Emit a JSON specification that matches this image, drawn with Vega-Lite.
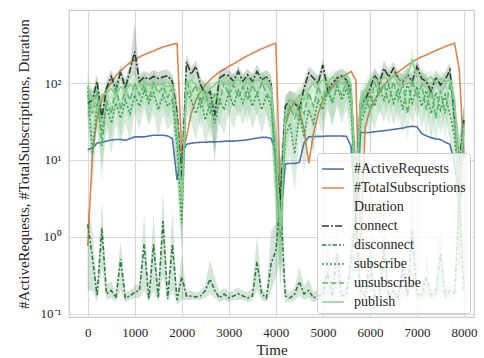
{
  "$schema": "https://vega.github.io/schema/vega-lite/v6.json",
  "autosize": {"type": "none"},
  "padding": {"left": 69, "top": 10, "right": 10, "bottom": 41},
  "width": 405,
  "height": 307,
  "background": "white",
  "config": {
    "font": "Liberation Serif",
    "view": {"stroke": "#cccccc", "strokeWidth": 1.25},
    "axis": {
      "grid": true, "gridColor": "#d9d9d9", "gridWidth": 1.2,
      "domain": false, "ticks": false,
      "labelFont": "Liberation Serif", "labelFontSize": 13, "labelColor": "#262626",
      "titleFont": "Liberation Serif", "titleFontSize": 15, "titleFontWeight": "normal", "titleColor": "#262626"
    },
    "legend": {
      "labelFont": "Liberation Serif", "labelFontSize": 14, "labelColor": "#262626"
    }
  },
  "data": {"values": [
{"t":0,"s":"#ActiveRequests","v":13.6},{"t":100,"s":"#ActiveRequests","v":14.3},{"t":200,"s":"#ActiveRequests","v":16.6},{"t":300,"s":"#ActiveRequests","v":17},{"t":400,"s":"#ActiveRequests","v":17.6},{"t":500,"s":"#ActiveRequests","v":18.2},{"t":600,"s":"#ActiveRequests","v":18.5},{"t":700,"s":"#ActiveRequests","v":18.5},{"t":800,"s":"#ActiveRequests","v":18},{"t":900,"s":"#ActiveRequests","v":19},
{"t":1000,"s":"#ActiveRequests","v":20},{"t":1100,"s":"#ActiveRequests","v":20},{"t":1200,"s":"#ActiveRequests","v":20},{"t":1300,"s":"#ActiveRequests","v":20.5},{"t":1400,"s":"#ActiveRequests","v":21},{"t":1500,"s":"#ActiveRequests","v":21},{"t":1600,"s":"#ActiveRequests","v":21},{"t":1700,"s":"#ActiveRequests","v":20.5},{"t":1800,"s":"#ActiveRequests","v":19},{"t":1900,"s":"#ActiveRequests","v":5.5},
{"t":2000,"s":"#ActiveRequests","v":12},{"t":2100,"s":"#ActiveRequests","v":16},{"t":2200,"s":"#ActiveRequests","v":16.5},{"t":2300,"s":"#ActiveRequests","v":16.8},{"t":2400,"s":"#ActiveRequests","v":17},{"t":2500,"s":"#ActiveRequests","v":17},{"t":2600,"s":"#ActiveRequests","v":17.2},{"t":2700,"s":"#ActiveRequests","v":17.2},{"t":2800,"s":"#ActiveRequests","v":17.3},{"t":2900,"s":"#ActiveRequests","v":17.5},
{"t":3000,"s":"#ActiveRequests","v":17.6},{"t":3100,"s":"#ActiveRequests","v":17.6},{"t":3200,"s":"#ActiveRequests","v":17.8},{"t":3300,"s":"#ActiveRequests","v":18},{"t":3400,"s":"#ActiveRequests","v":18.3},{"t":3500,"s":"#ActiveRequests","v":18.9},{"t":3600,"s":"#ActiveRequests","v":19.2},{"t":3700,"s":"#ActiveRequests","v":19.7},{"t":3800,"s":"#ActiveRequests","v":19.7},{"t":3900,"s":"#ActiveRequests","v":19},
{"t":4000,"s":"#ActiveRequests","v":13},{"t":4100,"s":"#ActiveRequests","v":1.7},{"t":4200,"s":"#ActiveRequests","v":8.9},{"t":4300,"s":"#ActiveRequests","v":9},{"t":4400,"s":"#ActiveRequests","v":9},{"t":4500,"s":"#ActiveRequests","v":9.3},{"t":4600,"s":"#ActiveRequests","v":16.7},{"t":4700,"s":"#ActiveRequests","v":20},{"t":4800,"s":"#ActiveRequests","v":20.2},{"t":4900,"s":"#ActiveRequests","v":20.3},
{"t":5000,"s":"#ActiveRequests","v":20.3},{"t":5100,"s":"#ActiveRequests","v":20.5},{"t":5200,"s":"#ActiveRequests","v":20.5},{"t":5300,"s":"#ActiveRequests","v":20.5},{"t":5400,"s":"#ActiveRequests","v":20.5},{"t":5500,"s":"#ActiveRequests","v":20.3},{"t":5600,"s":"#ActiveRequests","v":15},{"t":5700,"s":"#ActiveRequests","v":1.5},{"t":5800,"s":"#ActiveRequests","v":22.8},{"t":5900,"s":"#ActiveRequests","v":22.8},
{"t":6000,"s":"#ActiveRequests","v":22.8},{"t":6100,"s":"#ActiveRequests","v":23.3},{"t":6200,"s":"#ActiveRequests","v":23.7},{"t":6300,"s":"#ActiveRequests","v":24},{"t":6400,"s":"#ActiveRequests","v":24.5},{"t":6500,"s":"#ActiveRequests","v":25},{"t":6600,"s":"#ActiveRequests","v":25.5},{"t":6700,"s":"#ActiveRequests","v":26},{"t":6800,"s":"#ActiveRequests","v":27},{"t":6900,"s":"#ActiveRequests","v":27.5},
{"t":7000,"s":"#ActiveRequests","v":27},{"t":7100,"s":"#ActiveRequests","v":22},{"t":7200,"s":"#ActiveRequests","v":20.6},{"t":7300,"s":"#ActiveRequests","v":19.5},{"t":7400,"s":"#ActiveRequests","v":18.8},{"t":7500,"s":"#ActiveRequests","v":18.5},{"t":7600,"s":"#ActiveRequests","v":17},{"t":7700,"s":"#ActiveRequests","v":16},{"t":7800,"s":"#ActiveRequests","v":9},{"t":7900,"s":"#ActiveRequests","v":3},{"t":8000,"s":"#ActiveRequests","v":5},
{"t":0,"s":"#TotalSubscriptions","v":0.76},{"t":100,"s":"#TotalSubscriptions","v":12},{"t":200,"s":"#TotalSubscriptions","v":35},{"t":300,"s":"#TotalSubscriptions","v":60},{"t":400,"s":"#TotalSubscriptions","v":85},{"t":500,"s":"#TotalSubscriptions","v":100},{"t":600,"s":"#TotalSubscriptions","v":125},{"t":700,"s":"#TotalSubscriptions","v":145},{"t":800,"s":"#TotalSubscriptions","v":165},{"t":900,"s":"#TotalSubscriptions","v":185},
{"t":1000,"s":"#TotalSubscriptions","v":200},{"t":1100,"s":"#TotalSubscriptions","v":220},{"t":1200,"s":"#TotalSubscriptions","v":235},{"t":1300,"s":"#TotalSubscriptions","v":250},{"t":1400,"s":"#TotalSubscriptions","v":262},{"t":1500,"s":"#TotalSubscriptions","v":280},{"t":1600,"s":"#TotalSubscriptions","v":295},{"t":1700,"s":"#TotalSubscriptions","v":307},{"t":1800,"s":"#TotalSubscriptions","v":320},{"t":1900,"s":"#TotalSubscriptions","v":330},
{"t":2000,"s":"#TotalSubscriptions","v":12},{"t":2100,"s":"#TotalSubscriptions","v":20},{"t":2200,"s":"#TotalSubscriptions","v":40},{"t":2300,"s":"#TotalSubscriptions","v":60},{"t":2400,"s":"#TotalSubscriptions","v":78},{"t":2500,"s":"#TotalSubscriptions","v":95},{"t":2600,"s":"#TotalSubscriptions","v":110},{"t":2700,"s":"#TotalSubscriptions","v":125},{"t":2800,"s":"#TotalSubscriptions","v":140},{"t":2900,"s":"#TotalSubscriptions","v":152},
{"t":3000,"s":"#TotalSubscriptions","v":165},{"t":3100,"s":"#TotalSubscriptions","v":178},{"t":3200,"s":"#TotalSubscriptions","v":195},{"t":3300,"s":"#TotalSubscriptions","v":210},{"t":3400,"s":"#TotalSubscriptions","v":228},{"t":3500,"s":"#TotalSubscriptions","v":245},{"t":3600,"s":"#TotalSubscriptions","v":262},{"t":3700,"s":"#TotalSubscriptions","v":280},{"t":3800,"s":"#TotalSubscriptions","v":297},{"t":3900,"s":"#TotalSubscriptions","v":315},
{"t":4000,"s":"#TotalSubscriptions","v":330},{"t":4100,"s":"#TotalSubscriptions","v":3},{"t":4200,"s":"#TotalSubscriptions","v":28},{"t":4300,"s":"#TotalSubscriptions","v":45},{"t":4400,"s":"#TotalSubscriptions","v":58},{"t":4500,"s":"#TotalSubscriptions","v":45},{"t":4600,"s":"#TotalSubscriptions","v":25},{"t":4700,"s":"#TotalSubscriptions","v":9},{"t":4800,"s":"#TotalSubscriptions","v":22},{"t":4900,"s":"#TotalSubscriptions","v":40},
{"t":5000,"s":"#TotalSubscriptions","v":60},{"t":5100,"s":"#TotalSubscriptions","v":75},{"t":5200,"s":"#TotalSubscriptions","v":90},{"t":5300,"s":"#TotalSubscriptions","v":105},{"t":5400,"s":"#TotalSubscriptions","v":118},{"t":5500,"s":"#TotalSubscriptions","v":130},{"t":5600,"s":"#TotalSubscriptions","v":142},{"t":5700,"s":"#TotalSubscriptions","v":110},{"t":5800,"s":"#TotalSubscriptions","v":0.8},{"t":5900,"s":"#TotalSubscriptions","v":27},
{"t":6000,"s":"#TotalSubscriptions","v":45},{"t":6100,"s":"#TotalSubscriptions","v":60},{"t":6200,"s":"#TotalSubscriptions","v":78},{"t":6300,"s":"#TotalSubscriptions","v":95},{"t":6400,"s":"#TotalSubscriptions","v":110},{"t":6500,"s":"#TotalSubscriptions","v":122},{"t":6600,"s":"#TotalSubscriptions","v":140},{"t":6700,"s":"#TotalSubscriptions","v":155},{"t":6800,"s":"#TotalSubscriptions","v":172},{"t":6900,"s":"#TotalSubscriptions","v":190},
{"t":7000,"s":"#TotalSubscriptions","v":205},{"t":7100,"s":"#TotalSubscriptions","v":220},{"t":7200,"s":"#TotalSubscriptions","v":233},{"t":7300,"s":"#TotalSubscriptions","v":250},{"t":7400,"s":"#TotalSubscriptions","v":265},{"t":7500,"s":"#TotalSubscriptions","v":282},{"t":7600,"s":"#TotalSubscriptions","v":300},{"t":7700,"s":"#TotalSubscriptions","v":315},{"t":7800,"s":"#TotalSubscriptions","v":330},{"t":7900,"s":"#TotalSubscriptions","v":150},{"t":8000,"s":"#TotalSubscriptions","v":10.6},
{"t":0,"s":"connect","v":55,"lo":35,"hi":90},{"t":100,"s":"connect","v":60,"lo":45,"hi":80},{"t":200,"s":"connect","v":105,"lo":80,"hi":130},{"t":300,"s":"connect","v":35,"lo":25,"hi":50},{"t":400,"s":"connect","v":86,"lo":65,"hi":110},{"t":500,"s":"connect","v":122,"lo":95,"hi":150},{"t":600,"s":"connect","v":82,"lo":60,"hi":105},{"t":700,"s":"connect","v":140,"lo":110,"hi":175},{"t":800,"s":"connect","v":86,"lo":65,"hi":110},{"t":900,"s":"connect","v":147,"lo":110,"hi":190},
{"t":1000,"s":"connect","v":257,"lo":130,"hi":600},{"t":1100,"s":"connect","v":105,"lo":85,"hi":130},{"t":1200,"s":"connect","v":120,"lo":95,"hi":145},{"t":1300,"s":"connect","v":112,"lo":90,"hi":135},{"t":1400,"s":"connect","v":122,"lo":100,"hi":150},{"t":1500,"s":"connect","v":115,"lo":90,"hi":140},{"t":1600,"s":"connect","v":120,"lo":95,"hi":150},{"t":1700,"s":"connect","v":125,"lo":100,"hi":150},{"t":1800,"s":"connect","v":105,"lo":80,"hi":130},{"t":1900,"s":"connect","v":41,"lo":25,"hi":70},
{"t":2000,"s":"connect","v":5.5,"lo":2.5,"hi":12},{"t":2100,"s":"connect","v":190,"lo":150,"hi":240},{"t":2200,"s":"connect","v":130,"lo":100,"hi":160},{"t":2300,"s":"connect","v":165,"lo":130,"hi":200},{"t":2400,"s":"connect","v":95,"lo":75,"hi":120},{"t":2500,"s":"connect","v":72,"lo":55,"hi":95},{"t":2600,"s":"connect","v":78,"lo":55,"hi":100},{"t":2700,"s":"connect","v":38,"lo":9,"hi":60},{"t":2800,"s":"connect","v":116,"lo":90,"hi":140},{"t":2900,"s":"connect","v":128,"lo":100,"hi":155},
{"t":3000,"s":"connect","v":125,"lo":100,"hi":150},{"t":3100,"s":"connect","v":105,"lo":85,"hi":130},{"t":3200,"s":"connect","v":142,"lo":115,"hi":170},{"t":3300,"s":"connect","v":105,"lo":85,"hi":130},{"t":3400,"s":"connect","v":128,"lo":100,"hi":155},{"t":3500,"s":"connect","v":105,"lo":85,"hi":130},{"t":3600,"s":"connect","v":142,"lo":115,"hi":175},{"t":3700,"s":"connect","v":110,"lo":90,"hi":135},{"t":3800,"s":"connect","v":120,"lo":95,"hi":150},{"t":3900,"s":"connect","v":100,"lo":75,"hi":130},
{"t":4000,"s":"connect","v":10,"lo":4,"hi":25},{"t":4100,"s":"connect","v":3,"lo":1,"hi":10},{"t":4200,"s":"connect","v":50,"lo":35,"hi":70},{"t":4300,"s":"connect","v":60,"lo":45,"hi":80},{"t":4400,"s":"connect","v":55,"lo":40,"hi":75},{"t":4500,"s":"connect","v":45,"lo":30,"hi":65},{"t":4600,"s":"connect","v":86,"lo":65,"hi":110},{"t":4700,"s":"connect","v":135,"lo":105,"hi":165},{"t":4800,"s":"connect","v":116,"lo":90,"hi":145},{"t":4900,"s":"connect","v":100,"lo":80,"hi":125},
{"t":5000,"s":"connect","v":172,"lo":135,"hi":210},{"t":5100,"s":"connect","v":82,"lo":65,"hi":105},{"t":5200,"s":"connect","v":100,"lo":80,"hi":125},{"t":5300,"s":"connect","v":116,"lo":90,"hi":145},{"t":5400,"s":"connect","v":125,"lo":100,"hi":155},{"t":5500,"s":"connect","v":110,"lo":85,"hi":135},{"t":5600,"s":"connect","v":80,"lo":55,"hi":110},{"t":5700,"s":"connect","v":5,"lo":2,"hi":14},{"t":5800,"s":"connect","v":55,"lo":35,"hi":80},{"t":5900,"s":"connect","v":60,"lo":45,"hi":80},
{"t":6000,"s":"connect","v":85,"lo":65,"hi":110},{"t":6100,"s":"connect","v":128,"lo":100,"hi":160},{"t":6200,"s":"connect","v":100,"lo":80,"hi":125},{"t":6300,"s":"connect","v":156,"lo":120,"hi":195},{"t":6400,"s":"connect","v":120,"lo":95,"hi":150},{"t":6500,"s":"connect","v":156,"lo":120,"hi":190},{"t":6600,"s":"connect","v":115,"lo":90,"hi":140},{"t":6700,"s":"connect","v":105,"lo":85,"hi":130},{"t":6800,"s":"connect","v":130,"lo":105,"hi":160},{"t":6900,"s":"connect","v":105,"lo":85,"hi":130},
{"t":7000,"s":"connect","v":164,"lo":130,"hi":200},{"t":7100,"s":"connect","v":115,"lo":90,"hi":140},{"t":7200,"s":"connect","v":105,"lo":85,"hi":130},{"t":7300,"s":"connect","v":78,"lo":60,"hi":100},{"t":7400,"s":"connect","v":120,"lo":95,"hi":150},{"t":7500,"s":"connect","v":95,"lo":75,"hi":120},{"t":7600,"s":"connect","v":110,"lo":85,"hi":140},{"t":7700,"s":"connect","v":149,"lo":115,"hi":185},{"t":7800,"s":"connect","v":35,"lo":20,"hi":60},{"t":7900,"s":"connect","v":9,"lo":4,"hi":20},{"t":8000,"s":"connect","v":33,"lo":20,"hi":50},
{"t":0,"s":"disconnect","v":1.45,"lo":0.2,"hi":2.5},{"t":100,"s":"disconnect","v":0.54,"lo":0.2,"hi":1.2},{"t":200,"s":"disconnect","v":0.17,"lo":0.14,"hi":0.22},{"t":300,"s":"disconnect","v":1.29,"lo":0.4,"hi":3},{"t":400,"s":"disconnect","v":0.18,"lo":0.15,"hi":0.24},{"t":500,"s":"disconnect","v":0.2,"lo":0.16,"hi":0.26},{"t":600,"s":"disconnect","v":0.16,"lo":0.14,"hi":0.19},{"t":700,"s":"disconnect","v":0.51,"lo":0.2,"hi":0.9},{"t":800,"s":"disconnect","v":0.16,"lo":0.14,"hi":0.19},{"t":900,"s":"disconnect","v":0.17,"lo":0.15,"hi":0.2},
{"t":1000,"s":"disconnect","v":0.19,"lo":0.16,"hi":0.23},{"t":1100,"s":"disconnect","v":0.2,"lo":0.16,"hi":0.25},{"t":1200,"s":"disconnect","v":0.8,"lo":0.2,"hi":2},{"t":1300,"s":"disconnect","v":0.156,"lo":0.14,"hi":0.18},{"t":1400,"s":"disconnect","v":0.8,"lo":0.2,"hi":2},{"t":1500,"s":"disconnect","v":0.16,"lo":0.14,"hi":0.19},{"t":1600,"s":"disconnect","v":1.6,"lo":0.3,"hi":4},{"t":1700,"s":"disconnect","v":0.156,"lo":0.14,"hi":0.18},{"t":1800,"s":"disconnect","v":0.8,"lo":0.2,"hi":2.2},{"t":1900,"s":"disconnect","v":0.15,"lo":0.13,"hi":0.18},
{"t":2000,"s":"disconnect","v":0.3,"lo":0.15,"hi":0.6},{"t":2100,"s":"disconnect","v":0.17,"lo":0.15,"hi":0.2},{"t":2200,"s":"disconnect","v":0.168,"lo":0.15,"hi":0.2},{"t":2300,"s":"disconnect","v":0.165,"lo":0.15,"hi":0.19},{"t":2400,"s":"disconnect","v":0.17,"lo":0.15,"hi":0.2},{"t":2500,"s":"disconnect","v":0.2,"lo":0.16,"hi":0.24},{"t":2600,"s":"disconnect","v":0.28,"lo":0.18,"hi":0.5},{"t":2700,"s":"disconnect","v":0.2,"lo":0.16,"hi":0.3},{"t":2800,"s":"disconnect","v":0.16,"lo":0.14,"hi":0.19},{"t":2900,"s":"disconnect","v":0.18,"lo":0.15,"hi":0.22},
{"t":3000,"s":"disconnect","v":0.16,"lo":0.14,"hi":0.19},{"t":3100,"s":"disconnect","v":0.17,"lo":0.15,"hi":0.2},{"t":3200,"s":"disconnect","v":0.18,"lo":0.15,"hi":0.22},{"t":3300,"s":"disconnect","v":0.17,"lo":0.15,"hi":0.2},{"t":3400,"s":"disconnect","v":0.16,"lo":0.14,"hi":0.19},{"t":3500,"s":"disconnect","v":0.17,"lo":0.15,"hi":0.22},{"t":3600,"s":"disconnect","v":0.47,"lo":0.2,"hi":1.03},{"t":3700,"s":"disconnect","v":0.18,"lo":0.15,"hi":0.22},{"t":3800,"s":"disconnect","v":0.16,"lo":0.14,"hi":0.19},{"t":3900,"s":"disconnect","v":0.45,"lo":0.2,"hi":1.2},
{"t":4000,"s":"disconnect","v":0.66,"lo":0.3,"hi":1.5},{"t":4100,"s":"disconnect","v":3,"lo":0.5,"hi":12},{"t":4200,"s":"disconnect","v":0.17,"lo":0.14,"hi":0.21},{"t":4300,"s":"disconnect","v":0.16,"lo":0.14,"hi":0.19},{"t":4400,"s":"disconnect","v":0.18,"lo":0.15,"hi":0.22},{"t":4500,"s":"disconnect","v":0.26,"lo":0.17,"hi":0.4},{"t":4600,"s":"disconnect","v":0.18,"lo":0.15,"hi":0.23},{"t":4700,"s":"disconnect","v":0.2,"lo":0.16,"hi":0.28},{"t":4800,"s":"disconnect","v":0.16,"lo":0.14,"hi":0.19},{"t":4900,"s":"disconnect","v":0.17,"lo":0.15,"hi":0.21},
{"t":5000,"s":"disconnect","v":0.18,"lo":0.15,"hi":0.23},{"t":5100,"s":"disconnect","v":0.35,"lo":0.18,"hi":0.8},{"t":5200,"s":"disconnect","v":0.17,"lo":0.15,"hi":0.2},{"t":5300,"s":"disconnect","v":0.6,"lo":0.2,"hi":1.5},{"t":5400,"s":"disconnect","v":0.17,"lo":0.15,"hi":0.2},{"t":5500,"s":"disconnect","v":0.18,"lo":0.15,"hi":0.22},{"t":5600,"s":"disconnect","v":0.5,"lo":0.2,"hi":1.2},{"t":5700,"s":"disconnect","v":2,"lo":0.4,"hi":8},{"t":5800,"s":"disconnect","v":0.2,"lo":0.15,"hi":0.3},{"t":5900,"s":"disconnect","v":0.17,"lo":0.15,"hi":0.2},
{"t":6000,"s":"disconnect","v":0.5,"lo":0.2,"hi":1.2},{"t":6100,"s":"disconnect","v":0.17,"lo":0.15,"hi":0.2},{"t":6200,"s":"disconnect","v":0.18,"lo":0.15,"hi":0.22},{"t":6300,"s":"disconnect","v":0.7,"lo":0.2,"hi":1.8},{"t":6400,"s":"disconnect","v":0.17,"lo":0.15,"hi":0.2},{"t":6500,"s":"disconnect","v":0.2,"lo":0.16,"hi":0.26},{"t":6600,"s":"disconnect","v":0.16,"lo":0.14,"hi":0.19},{"t":6700,"s":"disconnect","v":0.4,"lo":0.18,"hi":0.9},{"t":6800,"s":"disconnect","v":0.17,"lo":0.15,"hi":0.2},{"t":6900,"s":"disconnect","v":1.2,"lo":0.25,"hi":8},
{"t":7000,"s":"disconnect","v":0.18,"lo":0.15,"hi":0.22},{"t":7100,"s":"disconnect","v":0.17,"lo":0.15,"hi":0.2},{"t":7200,"s":"disconnect","v":0.3,"lo":0.17,"hi":0.6},{"t":7300,"s":"disconnect","v":0.17,"lo":0.15,"hi":0.2},{"t":7400,"s":"disconnect","v":0.18,"lo":0.15,"hi":0.22},{"t":7500,"s":"disconnect","v":0.6,"lo":0.2,"hi":1.5},{"t":7600,"s":"disconnect","v":0.17,"lo":0.15,"hi":0.2},{"t":7700,"s":"disconnect","v":0.2,"lo":0.16,"hi":0.26},{"t":7800,"s":"disconnect","v":0.18,"lo":0.15,"hi":0.22},{"t":7900,"s":"disconnect","v":3,"lo":0.5,"hi":10},{"t":8000,"s":"disconnect","v":0.2,"lo":0.15,"hi":0.3},
{"t":0,"s":"subscribe","v":90,"lo":40,"hi":140},{"t":100,"s":"subscribe","v":12,"lo":4,"hi":30},{"t":200,"s":"subscribe","v":55,"lo":25,"hi":90},{"t":300,"s":"subscribe","v":22,"lo":8,"hi":45},{"t":400,"s":"subscribe","v":50,"lo":25,"hi":80},{"t":500,"s":"subscribe","v":30,"lo":12,"hi":55},{"t":600,"s":"subscribe","v":55,"lo":30,"hi":85},{"t":700,"s":"subscribe","v":35,"lo":15,"hi":60},{"t":800,"s":"subscribe","v":60,"lo":30,"hi":95},{"t":900,"s":"subscribe","v":40,"lo":18,"hi":65},
{"t":1000,"s":"subscribe","v":70,"lo":40,"hi":105},{"t":1100,"s":"subscribe","v":50,"lo":25,"hi":80},{"t":1200,"s":"subscribe","v":80,"lo":45,"hi":120},{"t":1300,"s":"subscribe","v":55,"lo":28,"hi":85},{"t":1400,"s":"subscribe","v":75,"lo":40,"hi":110},{"t":1500,"s":"subscribe","v":45,"lo":20,"hi":75},{"t":1600,"s":"subscribe","v":70,"lo":38,"hi":105},{"t":1700,"s":"subscribe","v":50,"lo":25,"hi":80},{"t":1800,"s":"subscribe","v":60,"lo":30,"hi":95},{"t":1900,"s":"subscribe","v":15,"lo":5,"hi":35},
{"t":2000,"s":"subscribe","v":1.5,"lo":0.6,"hi":4},{"t":2100,"s":"subscribe","v":80,"lo":40,"hi":120},{"t":2200,"s":"subscribe","v":60,"lo":30,"hi":95},{"t":2300,"s":"subscribe","v":40,"lo":18,"hi":70},{"t":2400,"s":"subscribe","v":65,"lo":35,"hi":100},{"t":2500,"s":"subscribe","v":33,"lo":15,"hi":60},{"t":2600,"s":"subscribe","v":55,"lo":28,"hi":85},{"t":2700,"s":"subscribe","v":30,"lo":12,"hi":55},{"t":2800,"s":"subscribe","v":60,"lo":30,"hi":95},{"t":2900,"s":"subscribe","v":45,"lo":22,"hi":75},
{"t":3000,"s":"subscribe","v":75,"lo":40,"hi":110},{"t":3100,"s":"subscribe","v":50,"lo":25,"hi":80},{"t":3200,"s":"subscribe","v":80,"lo":45,"hi":120},{"t":3300,"s":"subscribe","v":55,"lo":28,"hi":85},{"t":3400,"s":"subscribe","v":85,"lo":45,"hi":125},{"t":3500,"s":"subscribe","v":50,"lo":25,"hi":80},{"t":3600,"s":"subscribe","v":75,"lo":40,"hi":110},{"t":3700,"s":"subscribe","v":45,"lo":22,"hi":75},{"t":3800,"s":"subscribe","v":70,"lo":38,"hi":105},{"t":3900,"s":"subscribe","v":50,"lo":20,"hi":85},
{"t":4000,"s":"subscribe","v":8,"lo":2,"hi":20},{"t":4100,"s":"subscribe","v":1.2,"lo":0.3,"hi":5},{"t":4200,"s":"subscribe","v":20,"lo":6,"hi":40},{"t":4300,"s":"subscribe","v":30,"lo":12,"hi":55},{"t":4400,"s":"subscribe","v":12,"lo":4,"hi":28},{"t":4500,"s":"subscribe","v":40,"lo":18,"hi":70},{"t":4600,"s":"subscribe","v":20,"lo":7,"hi":40},{"t":4700,"s":"subscribe","v":45,"lo":20,"hi":75},{"t":4800,"s":"subscribe","v":30,"lo":12,"hi":55},{"t":4900,"s":"subscribe","v":60,"lo":30,"hi":95},
{"t":5000,"s":"subscribe","v":45,"lo":22,"hi":75},{"t":5100,"s":"subscribe","v":80,"lo":45,"hi":120},{"t":5200,"s":"subscribe","v":55,"lo":28,"hi":85},{"t":5300,"s":"subscribe","v":90,"lo":50,"hi":130},{"t":5400,"s":"subscribe","v":60,"lo":30,"hi":95},{"t":5500,"s":"subscribe","v":85,"lo":45,"hi":125},{"t":5600,"s":"subscribe","v":50,"lo":20,"hi":85},{"t":5700,"s":"subscribe","v":3,"lo":0.5,"hi":8},{"t":5800,"s":"subscribe","v":30,"lo":10,"hi":55},{"t":5900,"s":"subscribe","v":45,"lo":20,"hi":75},
{"t":6000,"s":"subscribe","v":70,"lo":38,"hi":105},{"t":6100,"s":"subscribe","v":50,"lo":25,"hi":80},{"t":6200,"s":"subscribe","v":85,"lo":45,"hi":125},{"t":6300,"s":"subscribe","v":60,"lo":30,"hi":95},{"t":6400,"s":"subscribe","v":95,"lo":55,"hi":140},{"t":6500,"s":"subscribe","v":55,"lo":28,"hi":85},{"t":6600,"s":"subscribe","v":85,"lo":45,"hi":125},{"t":6700,"s":"subscribe","v":45,"lo":22,"hi":75},{"t":6800,"s":"subscribe","v":100,"lo":55,"hi":145},{"t":6900,"s":"subscribe","v":55,"lo":28,"hi":85},
{"t":7000,"s":"subscribe","v":90,"lo":50,"hi":130},{"t":7100,"s":"subscribe","v":50,"lo":25,"hi":80},{"t":7200,"s":"subscribe","v":80,"lo":45,"hi":120},{"t":7300,"s":"subscribe","v":40,"lo":18,"hi":70},{"t":7400,"s":"subscribe","v":75,"lo":40,"hi":110},{"t":7500,"s":"subscribe","v":45,"lo":22,"hi":75},{"t":7600,"s":"subscribe","v":70,"lo":38,"hi":105},{"t":7700,"s":"subscribe","v":40,"lo":18,"hi":70},{"t":7800,"s":"subscribe","v":20,"lo":6,"hi":45},{"t":7900,"s":"subscribe","v":4,"lo":0.3,"hi":12},{"t":8000,"s":"subscribe","v":25,"lo":10,"hi":50},
{"t":0,"s":"unsubscribe","v":70,"lo":30,"hi":110},{"t":100,"s":"unsubscribe","v":40,"lo":10,"hi":75},{"t":200,"s":"unsubscribe","v":80,"lo":40,"hi":120},{"t":300,"s":"unsubscribe","v":15,"lo":5,"hi":35},{"t":400,"s":"unsubscribe","v":60,"lo":30,"hi":95},{"t":500,"s":"unsubscribe","v":40,"lo":18,"hi":70},{"t":600,"s":"unsubscribe","v":90,"lo":50,"hi":130},{"t":700,"s":"unsubscribe","v":45,"lo":20,"hi":75},{"t":800,"s":"unsubscribe","v":85,"lo":45,"hi":125},{"t":900,"s":"unsubscribe","v":60,"lo":30,"hi":95},
{"t":1000,"s":"unsubscribe","v":100,"lo":55,"hi":145},{"t":1100,"s":"unsubscribe","v":70,"lo":38,"hi":105},{"t":1200,"s":"unsubscribe","v":95,"lo":55,"hi":140},{"t":1300,"s":"unsubscribe","v":60,"lo":30,"hi":95},{"t":1400,"s":"unsubscribe","v":100,"lo":55,"hi":145},{"t":1500,"s":"unsubscribe","v":75,"lo":40,"hi":110},{"t":1600,"s":"unsubscribe","v":90,"lo":50,"hi":130},{"t":1700,"s":"unsubscribe","v":65,"lo":35,"hi":100},{"t":1800,"s":"unsubscribe","v":85,"lo":45,"hi":125},{"t":1900,"s":"unsubscribe","v":20,"lo":6,"hi":45},
{"t":2000,"s":"unsubscribe","v":3,"lo":0.8,"hi":8},{"t":2100,"s":"unsubscribe","v":110,"lo":65,"hi":155},{"t":2200,"s":"unsubscribe","v":70,"lo":38,"hi":105},{"t":2300,"s":"unsubscribe","v":95,"lo":55,"hi":140},{"t":2400,"s":"unsubscribe","v":50,"lo":25,"hi":80},{"t":2500,"s":"unsubscribe","v":80,"lo":45,"hi":120},{"t":2600,"s":"unsubscribe","v":40,"lo":18,"hi":70},{"t":2700,"s":"unsubscribe","v":75,"lo":40,"hi":110},{"t":2800,"s":"unsubscribe","v":55,"lo":28,"hi":85},{"t":2900,"s":"unsubscribe","v":100,"lo":55,"hi":145},
{"t":3000,"s":"unsubscribe","v":70,"lo":38,"hi":105},{"t":3100,"s":"unsubscribe","v":95,"lo":55,"hi":140},{"t":3200,"s":"unsubscribe","v":65,"lo":35,"hi":100},{"t":3300,"s":"unsubscribe","v":90,"lo":50,"hi":130},{"t":3400,"s":"unsubscribe","v":60,"lo":30,"hi":95},{"t":3500,"s":"unsubscribe","v":95,"lo":55,"hi":140},{"t":3600,"s":"unsubscribe","v":70,"lo":38,"hi":105},{"t":3700,"s":"unsubscribe","v":100,"lo":55,"hi":145},{"t":3800,"s":"unsubscribe","v":75,"lo":40,"hi":110},{"t":3900,"s":"unsubscribe","v":60,"lo":25,"hi":100},
{"t":4000,"s":"unsubscribe","v":6,"lo":1.5,"hi":15},{"t":4100,"s":"unsubscribe","v":1,"lo":0.2,"hi":6},{"t":4200,"s":"unsubscribe","v":30,"lo":10,"hi":55},{"t":4300,"s":"unsubscribe","v":50,"lo":25,"hi":80},{"t":4400,"s":"unsubscribe","v":35,"lo":15,"hi":60},{"t":4500,"s":"unsubscribe","v":55,"lo":28,"hi":85},{"t":4600,"s":"unsubscribe","v":40,"lo":18,"hi":70},{"t":4700,"s":"unsubscribe","v":75,"lo":40,"hi":110},{"t":4800,"s":"unsubscribe","v":50,"lo":25,"hi":80},{"t":4900,"s":"unsubscribe","v":90,"lo":50,"hi":130},
{"t":5000,"s":"unsubscribe","v":60,"lo":30,"hi":95},{"t":5100,"s":"unsubscribe","v":100,"lo":55,"hi":145},{"t":5200,"s":"unsubscribe","v":55,"lo":28,"hi":85},{"t":5300,"s":"unsubscribe","v":95,"lo":55,"hi":140},{"t":5400,"s":"unsubscribe","v":70,"lo":38,"hi":105},{"t":5500,"s":"unsubscribe","v":105,"lo":60,"hi":150},{"t":5600,"s":"unsubscribe","v":65,"lo":30,"hi":100},{"t":5700,"s":"unsubscribe","v":3,"lo":0.3,"hi":10},{"t":5800,"s":"unsubscribe","v":40,"lo":15,"hi":70},{"t":5900,"s":"unsubscribe","v":65,"lo":35,"hi":100},
{"t":6000,"s":"unsubscribe","v":45,"lo":20,"hi":75},{"t":6100,"s":"unsubscribe","v":100,"lo":55,"hi":145},{"t":6200,"s":"unsubscribe","v":70,"lo":38,"hi":105},{"t":6300,"s":"unsubscribe","v":95,"lo":55,"hi":140},{"t":6400,"s":"unsubscribe","v":55,"lo":28,"hi":85},{"t":6500,"s":"unsubscribe","v":105,"lo":60,"hi":150},{"t":6600,"s":"unsubscribe","v":60,"lo":30,"hi":95},{"t":6700,"s":"unsubscribe","v":100,"lo":55,"hi":145},{"t":6800,"s":"unsubscribe","v":40,"lo":18,"hi":70},{"t":6900,"s":"unsubscribe","v":110,"lo":65,"hi":155},
{"t":7000,"s":"unsubscribe","v":65,"lo":35,"hi":100},{"t":7100,"s":"unsubscribe","v":95,"lo":55,"hi":140},{"t":7200,"s":"unsubscribe","v":45,"lo":20,"hi":75},{"t":7300,"s":"unsubscribe","v":90,"lo":50,"hi":130},{"t":7400,"s":"unsubscribe","v":35,"lo":15,"hi":60},{"t":7500,"s":"unsubscribe","v":80,"lo":45,"hi":120},{"t":7600,"s":"unsubscribe","v":40,"lo":18,"hi":70},{"t":7700,"s":"unsubscribe","v":100,"lo":55,"hi":145},{"t":7800,"s":"unsubscribe","v":45,"lo":15,"hi":80},{"t":7900,"s":"unsubscribe","v":5,"lo":0.2,"hi":15},{"t":8000,"s":"unsubscribe","v":30,"lo":12,"hi":55},
{"t":0,"s":"publish","v":90,"lo":60,"hi":125},{"t":100,"s":"publish","v":60,"lo":40,"hi":85},{"t":200,"s":"publish","v":45,"lo":28,"hi":65},{"t":300,"s":"publish","v":70,"lo":50,"hi":95},{"t":400,"s":"publish","v":75,"lo":55,"hi":100},{"t":500,"s":"publish","v":85,"lo":65,"hi":110},{"t":600,"s":"publish","v":70,"lo":50,"hi":95},{"t":700,"s":"publish","v":90,"lo":70,"hi":115},{"t":800,"s":"publish","v":80,"lo":60,"hi":105},{"t":900,"s":"publish","v":95,"lo":75,"hi":120},
{"t":1000,"s":"publish","v":85,"lo":65,"hi":110},{"t":1100,"s":"publish","v":95,"lo":75,"hi":120},{"t":1200,"s":"publish","v":100,"lo":80,"hi":125},{"t":1300,"s":"publish","v":95,"lo":75,"hi":120},{"t":1400,"s":"publish","v":90,"lo":70,"hi":115},{"t":1500,"s":"publish","v":100,"lo":80,"hi":125},{"t":1600,"s":"publish","v":95,"lo":75,"hi":120},{"t":1700,"s":"publish","v":90,"lo":70,"hi":115},{"t":1800,"s":"publish","v":95,"lo":75,"hi":120},{"t":1900,"s":"publish","v":30,"lo":15,"hi":50},
{"t":2000,"s":"publish","v":3,"lo":0.6,"hi":8},{"t":2100,"s":"publish","v":100,"lo":80,"hi":125},{"t":2200,"s":"publish","v":110,"lo":85,"hi":140},{"t":2300,"s":"publish","v":95,"lo":75,"hi":120},{"t":2400,"s":"publish","v":80,"lo":60,"hi":105},{"t":2500,"s":"publish","v":70,"lo":50,"hi":95},{"t":2600,"s":"publish","v":85,"lo":65,"hi":110},{"t":2700,"s":"publish","v":95,"lo":75,"hi":120},{"t":2800,"s":"publish","v":110,"lo":85,"hi":140},{"t":2900,"s":"publish","v":100,"lo":80,"hi":125},
{"t":3000,"s":"publish","v":95,"lo":75,"hi":120},{"t":3100,"s":"publish","v":105,"lo":80,"hi":130},{"t":3200,"s":"publish","v":110,"lo":85,"hi":140},{"t":3300,"s":"publish","v":100,"lo":80,"hi":125},{"t":3400,"s":"publish","v":115,"lo":90,"hi":145},{"t":3500,"s":"publish","v":100,"lo":80,"hi":125},{"t":3600,"s":"publish","v":110,"lo":85,"hi":140},{"t":3700,"s":"publish","v":105,"lo":80,"hi":130},{"t":3800,"s":"publish","v":115,"lo":90,"hi":145},{"t":3900,"s":"publish","v":90,"lo":65,"hi":120},
{"t":4000,"s":"publish","v":15,"lo":5,"hi":35},{"t":4100,"s":"publish","v":1.2,"lo":0.2,"hi":10},{"t":4200,"s":"publish","v":40,"lo":25,"hi":60},{"t":4300,"s":"publish","v":60,"lo":45,"hi":80},{"t":4400,"s":"publish","v":55,"lo":40,"hi":75},{"t":4500,"s":"publish","v":70,"lo":50,"hi":95},{"t":4600,"s":"publish","v":60,"lo":45,"hi":80},{"t":4700,"s":"publish","v":85,"lo":65,"hi":110},{"t":4800,"s":"publish","v":100,"lo":80,"hi":125},{"t":4900,"s":"publish","v":95,"lo":75,"hi":120},
{"t":5000,"s":"publish","v":110,"lo":85,"hi":140},{"t":5100,"s":"publish","v":100,"lo":80,"hi":125},{"t":5200,"s":"publish","v":120,"lo":95,"hi":150},{"t":5300,"s":"publish","v":110,"lo":85,"hi":140},{"t":5400,"s":"publish","v":115,"lo":90,"hi":145},{"t":5500,"s":"publish","v":120,"lo":95,"hi":150},{"t":5600,"s":"publish","v":95,"lo":70,"hi":125},{"t":5700,"s":"publish","v":4,"lo":0.3,"hi":12},{"t":5800,"s":"publish","v":60,"lo":35,"hi":90},{"t":5900,"s":"publish","v":80,"lo":60,"hi":105},
{"t":6000,"s":"publish","v":110,"lo":85,"hi":140},{"t":6100,"s":"publish","v":115,"lo":90,"hi":145},{"t":6200,"s":"publish","v":105,"lo":80,"hi":130},{"t":6300,"s":"publish","v":120,"lo":95,"hi":150},{"t":6400,"s":"publish","v":110,"lo":85,"hi":140},{"t":6500,"s":"publish","v":125,"lo":100,"hi":155},{"t":6600,"s":"publish","v":115,"lo":90,"hi":145},{"t":6700,"s":"publish","v":110,"lo":85,"hi":140},{"t":6800,"s":"publish","v":130,"lo":100,"hi":165},{"t":6900,"s":"publish","v":200,"lo":140,"hi":280},
{"t":7000,"s":"publish","v":120,"lo":95,"hi":150},{"t":7100,"s":"publish","v":130,"lo":100,"hi":165},{"t":7200,"s":"publish","v":110,"lo":85,"hi":140},{"t":7300,"s":"publish","v":120,"lo":95,"hi":150},{"t":7400,"s":"publish","v":100,"lo":80,"hi":125},{"t":7500,"s":"publish","v":115,"lo":90,"hi":145},{"t":7600,"s":"publish","v":105,"lo":80,"hi":130},{"t":7700,"s":"publish","v":110,"lo":85,"hi":140},{"t":7800,"s":"publish","v":60,"lo":35,"hi":90},{"t":7900,"s":"publish","v":6,"lo":0.4,"hi":15},{"t":8000,"s":"publish","v":27,"lo":15,"hi":45}
  ]},
  "encoding": {
    "x": {
      "field": "t", "type": "quantitative",
      "scale": {"domain": [-398, 8213], "nice": false, "zero": false},
      "axis": {"values": [0,1000,2000,3000,4000,5000,6000,7000,8000], "format": "d", "title": "Time", "labelPadding": 9, "titlePadding": 3}
    }
  },
  "layer": [
    {
      "transform": [{"filter": {"field": "s", "oneOf": ["#ActiveRequests", "#TotalSubscriptions"]}}],
      "mark": {"type": "line", "strokeWidth": 1.6, "clip": true},
      "encoding": {
        "y": {
          "field": "v", "type": "quantitative",
          "scale": {"type": "log", "domain": [0.0903, 896], "nice": false, "zero": false},
          "axis": {
            "values": [0.1, 1, 10, 100],
            "labelExpr": "datum.value >= 50 ? '10²' : datum.value >= 5 ? '10¹' : datum.value >= 0.5 ? '10⁰' : '10⁻¹'",
            "title": "#ActiveRequests, #TotalSubscriptions, Duration",
            "labelPadding": 8, "titlePadding": 9
          }
        },
        "color": {
          "field": "s", "type": "nominal",
          "scale": {
            "domain": ["#ActiveRequests", "#TotalSubscriptions", "Duration", "connect", "disconnect", "subscribe", "unsubscribe", "publish"],
            "range": ["#4c72b0", "#dd8452", "rgba(0,0,0,0)", "#25432d", "#2e7b40", "#3c9c50", "#5db96b", "#8bcf8e"]
          },
          "legend": {
            "title": null, "orient": "bottom-right", "offset": 4,
            "symbolType": "stroke", "symbolSize": 484, "symbolStrokeWidth": 1.6,
            "rowPadding": -7, "labelOffset": 9, "padding": 4,
            "fillColor": "rgba(255,255,255,0.8)", "strokeColor": "#cccccc", "cornerRadius": 3
          }
        },
        "strokeDash": {
          "field": "s", "type": "nominal",
          "scale": {
            "domain": ["#ActiveRequests", "#TotalSubscriptions", "Duration", "connect", "disconnect", "subscribe", "unsubscribe", "publish"],
            "range": [[1,0], [1,0], [1,0], [7,2,2,2], [4.5,2,2,2], [2,2], [6,2.5], [1,0]]
          },
          "legend": {
            "title": null, "orient": "bottom-right", "offset": 4,
            "symbolType": "stroke", "symbolSize": 484, "symbolStrokeWidth": 1.6,
            "rowPadding": -7, "labelOffset": 9, "padding": 4,
            "fillColor": "rgba(255,255,255,0.8)", "strokeColor": "#cccccc", "cornerRadius": 3
          }
        }
      }
    },
    {
      "transform": [{"filter": {"field": "s", "oneOf": ["connect", "disconnect", "subscribe", "unsubscribe", "publish"]}}],
      "mark": {"type": "area", "fillOpacity": 0.2, "clip": true},
      "encoding": {
        "y": {"field": "lo", "type": "quantitative"},
        "y2": {"field": "hi"},
        "fill": {
          "field": "s", "type": "nominal",
          "scale": {"domain": ["connect", "disconnect", "subscribe", "unsubscribe", "publish"], "range": ["#25432d", "#2e7b40", "#3c9c50", "#5db96b", "#8bcf8e"]},
          "legend": null
        }
      }
    },
    {
      "transform": [{"filter": {"field": "s", "oneOf": ["connect", "disconnect", "subscribe", "unsubscribe", "publish"]}}],
      "mark": {"type": "line", "strokeWidth": 1.6, "clip": true},
      "encoding": {
        "y": {"field": "v", "type": "quantitative"},
        "color": {"field": "s", "type": "nominal"},
        "strokeDash": {"field": "s", "type": "nominal"}
      }
    }
  ]
}
